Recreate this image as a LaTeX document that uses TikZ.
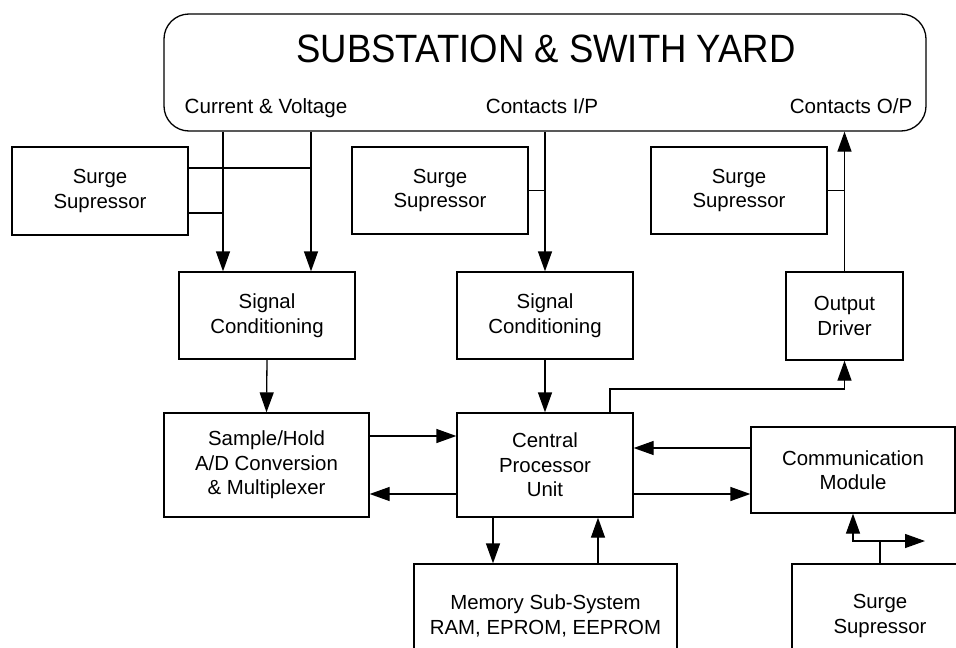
\documentclass[tikz,border=0pt]{standalone}
\usepackage{fontspec}
\setmainfont{Liberation Sans}
\usetikzlibrary{arrows.meta}
\tikzset{
  blk/.style={draw, line width=1.3pt, align=center, inner sep=0pt,
    font=\fontsize{20.4}{24.5}\selectfont},
  lbl/.style={inner sep=0pt, anchor=base, font=\fontsize{20.6}{24}\selectfont},
  wire/.style={line width=1.3pt},
  arr/.style={wire, -{Triangle[length=20pt,width=14pt]}},
}
\begin{document}
\begin{tikzpicture}[x=1pt, y=-1pt]
\useasboundingbox (0,0) rectangle (956,648);
\clip (0,0) rectangle (956,648);

% plant
\node[draw, line width=1.3pt, rounded corners=25pt, minimum width=762pt,
      minimum height=117pt, inner sep=0pt] (sub) at (545,72.5) {};
\node[inner sep=0pt, anchor=base,
      font=\fontsize{39.5}{40}\selectfont\addfontfeature{FakeStretch=0.925}]
      (ttl) at (546,62) {SUBSTATION \& SWITH YARD};
\node[lbl] (cv) at (266,113.5) {Current \& Voltage};
\node[lbl] (cip) at (542,113.5) {Contacts I/P};
\node[lbl] (cop) at (851,113.5) {Contacts O/P};

% surge suppressors
\node[blk, minimum width=176pt, minimum height=88pt] (s1) at (100,191) {Surge\\Supressor};
\node[blk, minimum width=176pt, minimum height=87pt] (s2) at (440,190.5) {Surge\\Supressor};
\node[blk, minimum width=176pt, minimum height=87pt] (s3) at (739,190.5) {Surge\\Supressor};
\node[blk, minimum width=176pt, minimum height=104pt] (s4) at (880,616) {Surge\\Supressor};

% signal path blocks
\node[blk, minimum width=176pt, minimum height=87pt] (sc1) at (267,315.5) {Signal\\Conditioning};
\node[blk, minimum width=176pt, minimum height=87pt] (sc2) at (545,315.5) {Signal\\Conditioning};
\node[blk, minimum width=117pt, minimum height=88pt] (od) at (844.5,316) {Output\\Driver};
\node[blk, minimum width=205pt, minimum height=104pt] (sh) at (266.5,465) {Sample/Hold\\A/D Conversion\\\& Multiplexer};
\node[blk, minimum width=176pt, minimum height=104pt] (cpu) at (545,465) {Central\\Processor\\Unit};
\node[blk, minimum width=204pt, minimum height=86pt] (com) at (853,470) {Communication\\Module};
\node[blk, minimum width=263pt, minimum height=104pt] (mem) at (545.5,616) {Memory Sub-System\\RAM, EPROM, EEPROM};

% measured inputs
\coordinate (a1) at ([xshift=-44pt]sc1.north);
\coordinate (a2) at ([xshift=44pt]sc1.north);
\draw[arr] (a1 |- sub.south) -- (a1);
\draw[arr] (a2 |- sub.south) -- (a2);
\coordinate (b1) at ([yshift=23pt]s1.east);
\coordinate (b2) at ([yshift=-22pt]s1.east);
\draw[wire] (b1) -- (b1 -| a2);
\draw[wire] (b2) -- (b2 -| a1);

% contact inputs
\draw[arr] (sc2.north |- sub.south) -- (sc2.north);
\draw[wire] (s2.east) -- (s2.east -| sc2.north);

% contact outputs
\draw[arr] (od.north) -- (od.north |- sub.south);
\draw[wire] (s3.east) -- (s3.east -| od.north);

% conditioning to processing
\draw[arr] (sc1.south) -- (sh.north);
\draw[arr] (sc2.south) -- (cpu.north);

% converter <-> CPU
\coordinate (h1) at ([yshift=29pt]sh.east);
\coordinate (h2) at ([yshift=-29pt]sh.east);
\draw[arr] (h1) -- (h1 -| cpu.west);
\draw[arr] (h2 -| cpu.west) -- (h2);

% CPU to output driver
\coordinate (o1) at ([xshift=65pt]cpu.north);
\coordinate (o2) at (610,389);
\draw[arr] (o1) -- (o2) -| (od.south);

% CPU <-> communication
\coordinate (c1) at ([yshift=22pt]com.west);
\coordinate (c2) at ([yshift=-29pt]cpu.east);
\draw[arr] (c1) -- (c1 -| cpu.east);
\draw[arr] (c2) -- (c2 -| com.west);

% CPU <-> memory
\coordinate (m1) at ([xshift=-52pt]cpu.south);
\coordinate (m2) at ([xshift=53pt]cpu.south);
\draw[arr] (m1) -- (m1 |- mem.north);
\draw[arr] (m2 |- mem.north) -- (m2);

% communication port
\coordinate (jl) at (853,541);
\coordinate (jr) at (925,541);
\draw[arr] (s4.north) |- (jl) -- (com.south);
\draw[arr] (jl) -- (jr);
\end{tikzpicture}
\end{document}
